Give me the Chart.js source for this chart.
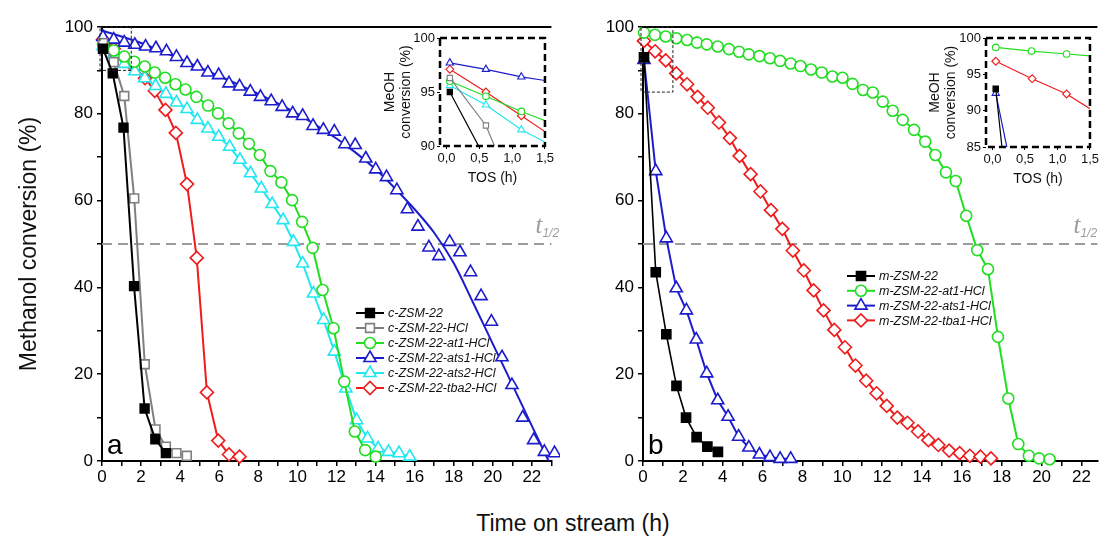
<!DOCTYPE html>
<html>
<head>
<meta charset="utf-8">
<script src="https://cdn.jsdelivr.net/npm/chart.js@4.4.1/dist/chart.umd.min.js"></script>
<style>
body{margin:0;background:#fff;}
#wrap{position:relative;width:1106px;height:544px;overflow:hidden;background:#fff;}
#wrap canvas{position:absolute;}
#xtitle{position:absolute;left:0;width:1146px;top:510px;text-align:center;font:23px "Liberation Sans",Arial,sans-serif;color:#111;}
</style>
</head>
<body>
<div id="wrap">
<canvas id="chartA" width="560" height="500" style="left:0;top:0"></canvas>
<canvas id="chartB" width="546" height="500" style="left:560px;top:0"></canvas>
<canvas id="insetA" width="186" height="161" style="left:370px;top:26px"></canvas>
<canvas id="insetB" width="186" height="162" style="left:915px;top:26px"></canvas>
<div id="xtitle">Time on stream (h)</div>
</div>
<script>
// panel a : c-ZSM-22 series (time h, conversion %)
const tA_c = [0.05,0.55,1.1,1.64,2.18,2.73,3.27];
const vA_c = [95.0,89.3,76.8,40.3,12.1,5.0,1.8];
const tA_hcl = [0.05,0.6,1.14,1.65,2.19,2.74,3.27,3.81,4.34];
const vA_hcl = [96.3,91.9,84.1,60.5,22.3,7.3,3.3,1.8,1.2];
const tA_at1 = [0.05,0.6,1.14,1.65,2.19,2.70,3.23,3.76,4.27,4.83,5.43,5.94,6.48,7.0,7.52,8.08,8.62,9.18,9.73,10.24,10.78,11.29,11.85,12.40,12.94,13.47,14.01];
const vA_at1 = [96.0,94.6,93.2,92.0,90.9,89.5,88.3,86.8,85.6,83.9,81.9,80.1,77.8,75.5,73.1,70.5,66.8,64.2,60.1,55.1,49.1,39.4,30.6,18.3,6.8,2.5,1.0];
const tA_ats1 = [0.05,0.6,1.14,1.68,2.23,2.76,3.3,3.81,4.35,4.88,5.42,5.97,6.5,7.04,7.59,8.11,8.66,9.22,9.76,10.27,10.8,11.33,11.89,12.43,12.96,13.5,14.01,14.56,15.09,15.63,16.17,16.73,17.24,17.79,18.32,18.86,19.4,19.93,20.47,20.98,21.53,22.09,22.64,23.16];
const vA_ats1 = [97.7,97.1,96.4,95.9,95.5,95.1,94.4,93.1,91.7,90.9,89.5,88.9,87.0,86.3,85.1,83.9,82.9,81.6,80.1,79.5,77.2,76.3,75.9,73.0,72.8,69.7,67.2,65.4,62.4,58.0,54.0,49.2,47.2,50.5,48.1,43.5,38.0,32.1,23.9,17.5,10.0,4.8,2.1,1.8];
const tA_fit = [0,2,4,6,8,10,12,13,14,15,16,17,18,19,20,21,22,22.86];
const vA_fit = [99.2,96.3,92.6,88.7,84.6,80.0,74.3,71.0,67.2,62.8,58.0,52.6,45.6,36.4,27.0,17.6,8.1,0];
const tA_ats2 = [0.05,0.6,1.14,1.68,2.19,2.74,3.27,3.81,4.35,4.88,5.42,5.97,6.53,7.06,7.6,8.15,8.71,9.27,9.8,10.27,10.82,11.34,11.89,12.48,13.03,13.59,14.13,14.66,15.2,15.75];
const vA_ats2 = [95.6,93.8,91.5,89.8,88.2,86.4,84.6,82.6,81.1,78.6,76.6,74.7,72.4,69.4,66.3,62.8,59.2,55.5,50.5,45.5,38.6,32.5,25.2,16.7,9.4,5.2,2.9,2.1,1.8,1.0];
const tA_tba2 = [0.05,0.6,1.14,1.68,2.2,2.7,3.25,3.78,4.35,4.85,5.37,5.95,6.5,7.04];
const vA_tba2 = [97.1,95.0,92.8,90.6,88.2,85.3,80.9,75.6,63.8,46.8,15.8,4.7,1.5,1.0];

// panel b : m-ZSM-22 series
const tB_m = [0.05,0.64,1.17,1.68,2.16,2.69,3.23,3.76];
const vB_m = [93.0,43.5,29.2,17.3,10.0,5.5,3.3,2.1];
const tB_at1 = [0.05,0.6,1.14,1.67,2.21,2.71,3.2,3.75,4.31,4.82,5.31,5.84,6.37,6.88,7.41,7.9,8.43,8.97,9.5,10.01,10.51,11.04,11.53,12.03,12.53,13.03,13.6,14.16,14.67,15.2,15.69,16.22,16.77,17.31,17.81,18.33,18.83,19.36,19.87,20.4];
const vB_at1 = [98.7,98.2,97.8,97.4,97.0,96.4,96.0,95.5,94.9,94.3,93.7,93.3,92.8,92.2,91.6,91.0,90.2,89.5,88.6,88.3,86.9,85.5,84.9,82.8,80.7,78.6,76.3,73.6,70.5,66.5,64.5,56.5,48.6,44.2,28.6,14.4,3.9,1.2,0.6,0.4];
const tB_ats1 = [0.05,0.64,1.17,1.67,2.18,2.67,3.2,3.75,4.27,4.8,5.31,5.84,6.37,6.88,7.41];
const vB_ats1 = [92.4,66.8,51.3,39.8,34.7,28.0,20.2,14.0,10.2,5.6,3.1,1.5,0.9,0.5,0.5];
const tB_tba1 = [0.05,0.61,1.14,1.67,2.21,2.74,3.25,3.81,4.36,4.85,5.4,5.89,6.42,6.99,7.52,8.07,8.56,9.06,9.6,10.13,10.66,11.2,11.72,12.23,12.76,13.27,13.8,14.32,14.82,15.36,15.89,16.4,16.93,17.46];
const vB_tba1 = [96.8,94.4,92.3,89.3,86.8,83.9,81.4,78.0,74.4,70.3,66.1,62.1,57.8,53.5,48.5,43.9,39.3,34.7,30.2,26.2,22.0,18.5,15.6,12.7,10.0,8.8,6.8,4.8,3.7,2.4,1.8,1.2,1.0,0.6];

const labelsA = ["c-ZSM-22","c-ZSM-22-HCl","c-ZSM-22-at1-HCl","c-ZSM-22-ats1-HCl","c-ZSM-22-ats2-HCl","c-ZSM-22-tba2-HCl"];
const labelsB = ["m-ZSM-22","m-ZSM-22-at1-HCl","m-ZSM-22-ats1-HCl","m-ZSM-22-tba1-HCl"];

// inset ranges
const insetXA = [-0.1,1.5], insetYA = [90,100];
const insetXB = [-0.1,1.5], insetYB = [85,100];

const NEGRO="#000000", GRIS="#808080", VERDE="#22dd22", AZUL="#1c1ccc", CIAN="#22e6f0", ROJO="#ee1c1c";

Chart.defaults.font.family = '"Liberation Sans", Arial, sans-serif';
Chart.defaults.color = "#000";

function pts(t, v){
  return t.map((x, i) => ({x: x, y: v[i]}));
}

function serie(label, t, v, color, estilo, radio, relleno, extra){
  return Object.assign({
    label: label,
    data: pts(t, v),
    borderColor: color,
    backgroundColor: relleno,
    pointBackgroundColor: relleno,
    pointBorderColor: color,
    pointStyle: estilo,
    pointRadius: radio,
    pointBorderWidth: 1.6,
    borderWidth: 2,
    tension: 0,
    clip: false
  }, extra || {});
}

function datosA(inset){
  const k = inset ? 0.6 : 1;
  const lst = [
    serie(labelsA[0], tA_c, vA_c, NEGRO, "rect", 6.2*k, NEGRO),
    serie(labelsA[1], tA_hcl, vA_hcl, GRIS, "rect", 6.2*k, "#fff"),
    serie(labelsA[2], tA_at1, vA_at1, VERDE, "circle", 5.5*k, "#fff"),
    serie(labelsA[3], tA_ats1, vA_ats1, AZUL, "triangle", 7*k, "#fff", {showLine: inset}),
    serie(labelsA[4], tA_ats2, vA_ats2, CIAN, "triangle", 7*k, "#fff"),
    serie(labelsA[5], tA_tba2, vA_tba2, ROJO, "rectRot", 6.5*k, "#fff")
  ];
  if(!inset){
    lst.push({label: "", data: pts(tA_fit, vA_fit), borderColor: AZUL, borderWidth: 2,
      pointRadius: 0, cubicInterpolationMode: "monotone", clip: false});
  }
  return ajustarInset(lst, inset);
}

function datosB(inset){
  const k = inset ? 0.6 : 1;
  const lst = [
    serie(labelsB[0], tB_m, vB_m, NEGRO, "rect", 6.4*k, NEGRO, {borderWidth: 1.6}),
    serie(labelsB[1], tB_at1, vB_at1, VERDE, "circle", 5.5*k, "#fff"),
    serie(labelsB[2], tB_ats1, vB_ats1, AZUL, "triangle", 7*k, "#fff"),
    serie(labelsB[3], tB_tba1, vB_tba1, ROJO, "rectRot", 6.5*k, "#fff")
  ];
  return ajustarInset(lst, inset);
}

function ajustarInset(lst, inset){
  if(inset){
    lst.forEach(d => { d.borderWidth = 1.2; d.pointBorderWidth = 1.1; d.clip = 0; });
  }
  return lst;
}

// decorations: top line, t1/2 line, legend, letter, inset boxes
const deco = {
  id: "deco",
  beforeDatasetsDraw(chart, args, o){
    if(!o.half) return;
    const ctx = chart.ctx, a = chart.chartArea;
    const yy = chart.scales.y.getPixelForValue(50);
    ctx.save();
    ctx.strokeStyle = "#9c9c9c"; ctx.lineWidth = 2; ctx.setLineDash([10,6]);
    ctx.beginPath(); ctx.moveTo(a.left, yy); ctx.lineTo(a.right, yy); ctx.stroke();
    ctx.restore();
  },
  afterDraw(chart, args, o){
    const ctx = chart.ctx, a = chart.chartArea, sx = chart.scales.x, sy = chart.scales.y;
    ctx.save();
    if(o.marco === "main"){
      ctx.strokeStyle = "#000"; ctx.lineWidth = 2;
      ctx.beginPath(); ctx.moveTo(a.left - 1, a.top); ctx.lineTo(a.right, a.top); ctx.stroke();
    }
    if(o.marco === "inset"){
      ctx.strokeStyle = "#000"; ctx.lineWidth = 2.5; ctx.setLineDash([7,4]);
      ctx.strokeRect(a.left, a.top, a.right - a.left, a.bottom - a.top);
      ctx.setLineDash([]);
    }
    if(o.caja){
      const x1 = sx.getPixelForValue(o.caja.x[0]), x2 = sx.getPixelForValue(o.caja.x[1]);
      const y1 = sy.getPixelForValue(o.caja.y[1]), y2 = sy.getPixelForValue(o.caja.y[0]);
      ctx.strokeStyle = "#222"; ctx.lineWidth = 1; ctx.setLineDash([3,2]);
      ctx.strokeRect(x1, y1, x2 - x1, y2 - y1);
      ctx.setLineDash([]);
    }
    if(o.half){
      const yy = sy.getPixelForValue(50);
      ctx.fillStyle = "#9c9c9c";
      ctx.textBaseline = "alphabetic";
      ctx.font = "italic 25px 'Liberation Serif', serif";
      ctx.fillText("t", a.right - o.half, yy - 11);
      ctx.font = "italic 12px 'Liberation Sans', Arial, sans-serif";
      ctx.fillText("1/2", a.right - o.half + 7, yy - 7);
    }
    if(o.letra){
      ctx.fillStyle = "#000";
      ctx.font = "28px 'Liberation Sans', Arial, sans-serif";
      ctx.textBaseline = "alphabetic";
      ctx.fillText(o.letra, a.left + 5, a.bottom - 7);
    }
    if(o.leyenda){
      const L = o.leyenda;
      chart.data.datasets.forEach((d, i) => {
        if(!d.label) return;
        const y = L.y + i * L.paso;
        ctx.strokeStyle = d.borderColor; ctx.lineWidth = 2;
        ctx.beginPath(); ctx.moveTo(L.x, y); ctx.lineTo(L.x + 28, y); ctx.stroke();
        ctx.fillStyle = d.pointBackgroundColor;
        ctx.strokeStyle = d.pointBorderColor;
        ctx.lineWidth = 1.6;
        Chart.helpers.drawPoint(ctx, {pointStyle: d.pointStyle, radius: d.pointRadius, borderWidth: 1.6, rotation: 0}, L.x + 14, y);
        ctx.fillStyle = "#111";
        ctx.font = "italic 12.5px 'Liberation Sans', Arial, sans-serif";
        ctx.textBaseline = "middle";
        ctx.fillText(d.label, L.x + 32, y + 1);
      });
    }
    ctx.restore();
  }
};
Chart.register(deco);

function opcionesMain(xmax, yW, padL, padR, d, titulo){
  return {
    responsive: false,
    animation: false,
    layout: {padding: {left: padL, right: padR, top: 27, bottom: 0}},
    plugins: {legend: {display: false}, tooltip: {enabled: false}, deco: d},
    scales: {
      x: {
        type: "linear", min: 0, max: xmax,
        afterFit(s){ s.height = 39; },
        border: {color: "#000", width: 2},
        grid: {drawOnChartArea: false, color: "#000", lineWidth: 1.5, tickLength: 5},
        ticks: {stepSize: 1, includeBounds: false, autoSkip: false, maxRotation: 0, padding: 1,
          font: {size: 17}, color: "#000", callback: v => (v % 2 === 0 ? String(v) : "")}
      },
      y: {
        min: 0, max: 100,
        afterFit(s){ s.width = yW; },
        border: {color: "#000", width: 2},
        grid: {drawOnChartArea: false, color: "#000", lineWidth: 1.5, tickLength: 5},
        ticks: {stepSize: 10, autoSkip: false, padding: 4, font: {size: 17}, color: "#000",
          callback: v => (v % 20 === 0 ? String(v) : "")},
        title: {display: titulo, text: "Methanol conversion (%)", font: {size: 23}, color: "#111", padding: 0}
      }
    }
  };
}

function opcionesInset(rx, ry, padL, yW, xH, padR){
  return {
    responsive: false,
    animation: false,
    layout: {padding: {left: padL, right: padR, top: 12, bottom: 0}},
    plugins: {legend: {display: false}, tooltip: {enabled: false}, deco: {marco: "inset"}},
    scales: {
      x: {
        type: "linear", min: rx[0], max: rx[1],
        afterFit(s){ s.height = xH; },
        border: {display: false},
        grid: {drawOnChartArea: false, color: "#000", lineWidth: 1, tickLength: 3},
        ticks: {stepSize: 0.5, includeBounds: false, autoSkip: false, maxRotation: 0, padding: 2,
          font: {size: 13}, color: "#111", callback: v => v.toFixed(1).replace(".", ",")},
        title: {display: true, text: "TOS (h)", font: {size: 14}, color: "#111", padding: {top: 1, bottom: 0}}
      },
      y: {
        min: ry[0], max: ry[1],
        afterFit(s){ s.width = yW; },
        border: {display: false},
        grid: {drawOnChartArea: false, color: "#000", lineWidth: 1, tickLength: 3},
        ticks: {stepSize: 5, autoSkip: false, padding: 2, font: {size: 13}, color: "#111"},
        title: {display: true, text: ["MeOH", "conversion (%)"], font: {size: 14, lineHeight: 1.15}, color: "#111", padding: 0}
      }
    }
  };
}

new Chart(document.getElementById("chartA"), {
  type: "line",
  data: {datasets: datosA(false)},
  options: opcionesMain(23, 86, 16, 7,
    {marco: "main", half: 16, letra: "a", caja: {x: insetXA, y: insetYA}, leyenda: {x: 356, y: 313, paso: 15}}, true)
});

new Chart(document.getElementById("chartB"), {
  type: "line",
  data: {datasets: datosB(false)},
  options: opcionesMain(22.8, 83, 0, 2,
    {marco: "main", half: 24, letra: "b", caja: {x: insetXB, y: insetYB}, leyenda: {x: 287, y: 276, paso: 14.8}}, false)
});

new Chart(document.getElementById("insetA"), {
  type: "line",
  data: {datasets: datosA(true)},
  options: opcionesInset(insetXA, insetYA, 12, 58, 41, 7)
});

new Chart(document.getElementById("insetB"), {
  type: "line",
  data: {datasets: datosB(true)},
  options: opcionesInset(insetXB, insetYB, 12, 59, 41, 8)
});
</script>
</body>
</html>
